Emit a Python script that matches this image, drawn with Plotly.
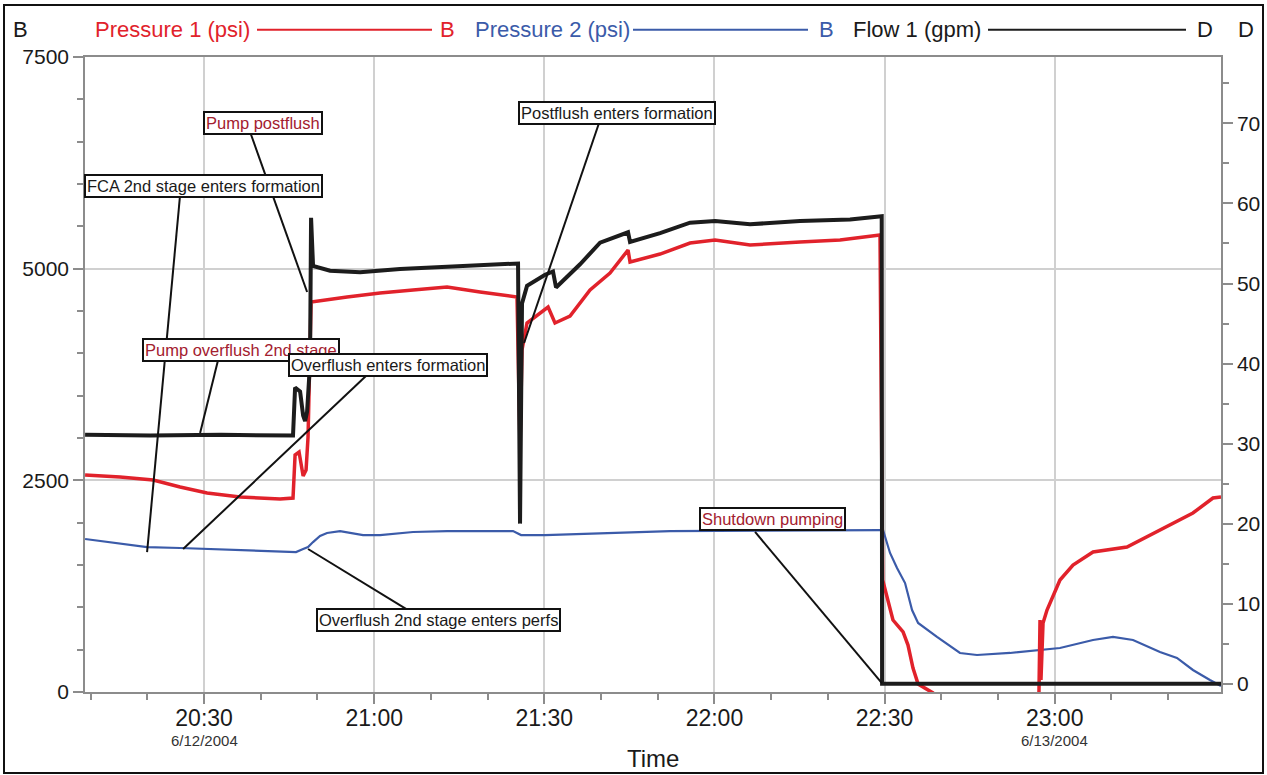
import plotly.graph_objects as go

DAY = "2004-06-12 "
FONT = "Liberation Sans, Arial, sans-serif"

# ---------------- data ----------------
flow_time = ["20:09:01", "20:20:30", "20:33:00", "20:45:41", "20:46:03", "20:46:56", "20:47:28",
             "20:47:49", "20:48:10", "20:48:41", "20:48:52", "20:49:13", "20:52:13", "20:57:31",
             "21:04:34", "21:13:23", "21:22:12", "21:25:22", "21:25:43", "21:26:04", "21:26:57",
             "21:30:08", "21:31:32", "21:32:04", "21:36:18", "21:39:50", "21:44:46", "21:45:07",
             "21:50:25", "21:55:42", "22:00:07", "22:06:17", "22:15:06", "22:23:55", "22:29:30",
             "22:29:34", "23:29:20"]
flow_gpm = [31.1, 31.0, 31.1, 31.0, 37.0, 36.5, 33.5, 32.8, 34.0, 40.0,
            58.2, 52.2, 51.6, 51.4, 51.8, 52.1, 52.4, 52.5, 20.0, 47.5,
            49.7, 51.1, 51.5, 49.5, 52.4, 55.1, 56.4, 55.2, 56.3, 57.6,
            57.8, 57.4, 57.8, 58.0, 58.4, 0.0, 0.0]

p1_time = ["20:09:01", "20:15:11", "20:21:01", "20:25:46", "20:30:32", "20:36:21", "20:43:24",
           "20:45:41", "20:46:03", "20:46:45", "20:47:28", "20:47:59", "20:48:20", "20:48:52",
           "20:55:13", "21:01:02", "21:06:51", "21:12:51", "21:18:40", "21:25:11", "21:25:43",
           "21:26:04", "21:26:57", "21:30:40", "21:31:53", "21:34:32", "21:38:04", "21:41:35",
           "21:44:46", "21:45:07", "21:50:25", "21:55:42", "22:00:07", "22:06:17", "22:15:06",
           "22:22:09", "22:29:12", "22:29:40", "22:31:29", "22:33:16", "22:34:08", "22:35:01",
           "22:35:55", "22:38:33", "22:40:40", "22:45:00", "22:57:10", "22:57:25", "22:57:35",
           "22:57:57", "22:58:39", "23:00:56", "23:03:14", "23:06:46", "23:12:45", "23:18:34",
           "23:24:23", "23:27:55", "23:29:20"]
p1_psi = [2563, 2539, 2504, 2421, 2350, 2303, 2279, 2291, 2799, 2834,
          2551, 2622, 3012, 4606, 4665, 4712, 4748, 4783, 4724, 4665,
          2893, 4039, 4358, 4547, 4358, 4441, 4748, 4949, 5220, 5078,
          5173, 5303, 5338, 5279, 5315, 5338, 5397, 1323, 850, 709,
          555, 283, 94, -12, -150, -300, -300, 850, 142, 815,
          968, 1323, 1500, 1653, 1712, 1913, 2114, 2291, 2303]

p2_time = ["20:09:01", "20:16:57", "20:19:57", "20:25:46", "20:34:35", "20:43:24", "20:46:13",
           "20:47:28", "20:48:20", "20:49:13", "20:50:27", "20:51:41", "20:53:59", "20:58:02",
           "21:01:02", "21:06:51", "21:12:51", "21:24:29", "21:25:54", "21:30:08", "21:39:50",
           "21:52:11", "22:29:12", "22:29:44", "22:30:58", "22:32:12", "22:33:37", "22:34:51",
           "22:35:55", "22:39:15", "22:43:18", "22:46:18", "22:52:08", "22:57:57", "23:00:56",
           "23:06:46", "23:10:17", "23:13:49", "23:18:34", "23:21:34", "23:24:23", "23:27:23",
           "23:29:20"]
p2_psi = [1807, 1736, 1712, 1701, 1677, 1653, 1653, 1689, 1712, 1771,
          1842, 1878, 1901, 1854, 1854, 1890, 1901, 1901, 1854, 1854,
          1878, 1901, 1913, 1913, 1642, 1464, 1287, 968, 815, 650,
          461, 437, 461, 496, 520, 614, 650, 614, 472, 402,
          260, 142, 71]

x_ticks = ["20:30", "21:00", "21:30", "22:00", "22:30", "23:00"]
x_dates = {"20:30": "6/12/2004", "23:00": "6/13/2004"}
left_ticks = [0, 2500, 5000, 7500]
right_ticks = [0, 10, 20, 30, 40, 50, 60, 70]

# event callouts: label, text colour, box anchor, leader start, leader end (time, psi)
RED_TXT = "#a3202f"
BLK = "#1a1a1a"
callouts = [
    ("Pump postflush", RED_TXT, ("20:40:24", 6726), ("20:38:07", 6614), ("20:48:10", 4724)),
    ("FCA 2nd stage enters formation", BLK, ("20:29:49", 5982), ("20:25:46", 5870), ("20:19:57", 1653)),
    ("Pump overflush 2nd stage", RED_TXT, ("20:36:26", 4045), ("20:32:28", 3921), ("20:29:18", 3059)),
    ("Overflush enters formation", BLK, ("21:02:27", 3862), ("20:58:44", 3744), ("20:26:18", 1689)),
    ("Overflush 2nd stage enters perfs", BLK, ("21:11:21", 856), ("21:05:58", 968), ("20:48:20", 1689)),
    ("Postflush enters formation", BLK, ("21:42:44", 6838), ("21:39:39", 6720), ("21:26:26", 4122)),
    ("Shutdown pumping", RED_TXT, ("22:10:15", 2040), ("22:07:10", 1890), ("22:29:34", 103)),
]

RED = "#e1222b"
BLUE = "#3b5ba9"
BLACK = "#1c1c1c"
AX = "#8c8c8c"
GRID = "#d0d0d0"

ML, MR, MT, MB = 85, 46, 57, 83
PW = 1267 - ML - MR


def ts(t):
    return DAY + t


def px(xpix):
    return (xpix - ML) / PW


fig = go.Figure()
fig.add_trace(go.Scatter(x=[ts(t) for t in p2_time], y=p2_psi, mode="lines",
                         line=dict(color=BLUE, width=2.2), name="Pressure 2 (psi)"))
fig.add_trace(go.Scatter(x=[ts(t) for t in p1_time], y=p1_psi, mode="lines",
                         line=dict(color=RED, width=3.5), name="Pressure 1 (psi)"))
fig.add_trace(go.Scatter(x=[ts(t) for t in flow_time], y=flow_gpm, mode="lines", yaxis="y2",
                         line=dict(color=BLACK, width=4), name="Flow 1 (gpm)"))

shapes = []
annotations = []
for text, col, box, start, end in callouts:
    shapes.append(dict(type="line", xref="x", yref="y", x0=ts(start[0]), y0=start[1],
                       x1=ts(end[0]), y1=end[1], line=dict(color="#111111", width=2)))
    annotations.append(dict(x=ts(box[0]), y=box[1], xref="x", yref="y", text=text,
                            showarrow=False, font=dict(size=16.5, color=col, family=FONT),
                            bgcolor="white", bordercolor="#111111", borderwidth=2, borderpad=1))

# outer frame
shapes.append(dict(type="rect", xref="paper", yref="paper", x0=px(4), x1=px(1263),
                   y0=-0.1276, y1=1.0819, line=dict(color="#111111", width=2)))

# header "legend"
HY = 1.043
hdr = [
    ("B", px(20), "center", BLK),
    ("Pressure 1 (psi)", px(93), "left", RED),
    ("B", px(447), "center", RED),
    ("Pressure 2 (psi)", px(473), "left", BLUE),
    ("B", px(826), "center", BLUE),
    ("Flow 1 (gpm)", px(851), "left", BLK),
    ("D", px(1205), "center", BLK),
    ("D", px(1246), "center", BLK),
]
for text, xp, anc, col in hdr:
    annotations.append(dict(x=xp, y=HY, xref="paper", yref="paper", text=text, showarrow=False,
                            xanchor=anc, yanchor="middle", font=dict(size=22, color=col, family=FONT)))
for x0, x1, col in [(px(257), px(432), RED), (px(633), px(808), BLUE), (px(988), px(1186), BLACK)]:
    shapes.append(dict(type="line", xref="paper", yref="paper", x0=x0, x1=x1, y0=HY, y1=HY,
                       line=dict(color=col, width=2)))

# dates under ticks and axis title
for t, d in x_dates.items():
    annotations.append(dict(x=ts(t), y=-0.0756, xref="x", yref="paper", text=d, showarrow=False,
                            yanchor="middle", font=dict(size=15, color="#333333", family=FONT)))
annotations.append(dict(x=px(653), y=-0.104, xref="paper", yref="paper", text="Time", showarrow=False,
                        yanchor="middle", font=dict(size=24, color=BLK, family=FONT)))

fig.update_layout(
    width=1267, height=775, autosize=False,
    margin=dict(l=ML, r=MR, t=MT, b=MB, pad=0, autoexpand=False),
    paper_bgcolor="white", plot_bgcolor="white",
    showlegend=False,
    font=dict(family=FONT, color=BLK),
    shapes=shapes, annotations=annotations,
    xaxis=dict(type="date", range=[ts("20:09:00"), ts("23:29:20")], automargin=False,
               tickmode="array", tickvals=[ts(t) for t in x_ticks], ticktext=x_ticks,
               ticks="outside", ticklen=10, tickwidth=1.5, tickcolor=AX,
               showline=True, linecolor=AX, linewidth=1.5, mirror=True,
               showgrid=True, gridcolor=GRID, gridwidth=1.5, zeroline=False,
               tickfont=dict(size=23, color=BLK), ticklabelstandoff=-5,
               minor=dict(ticks="outside", ticklen=6, tickwidth=1.5, tickcolor=AX,
                          dtick=600000, tick0=ts("20:00:00"), showgrid=False)),
    yaxis=dict(range=[0, 7500], tickmode="array", tickvals=left_ticks, automargin=False,
               ticks="outside", ticklen=10, tickwidth=1.5, tickcolor=AX,
               showline=True, linecolor=AX, linewidth=1.5,
               showgrid=True, gridcolor=GRID, gridwidth=1.5, zeroline=False,
               tickfont=dict(size=21, color=BLK),
               minor=dict(ticks="outside", ticklen=6, tickwidth=1.5, tickcolor=AX,
                          dtick=500, tick0=0, showgrid=False)),
    yaxis2=dict(range=[-1.04, 78.3], overlaying="y", side="right", tickmode="array",
                automargin=False,
                tickvals=right_ticks, ticks="outside", ticklen=10, tickwidth=1.5, tickcolor=AX,
                showline=True, linecolor=AX, linewidth=1.5, showgrid=False, zeroline=False,
                tickfont=dict(size=21, color=BLK),
                minor=dict(ticks="outside", ticklen=6, tickwidth=1.5, tickcolor=AX,
                           dtick=5, tick0=0, showgrid=False)),
)

fig.write_html("out.html", config={"displayModeBar": False, "responsive": False},
               post_script="document.body.style.margin='0';document.body.style.overflow='hidden';")
